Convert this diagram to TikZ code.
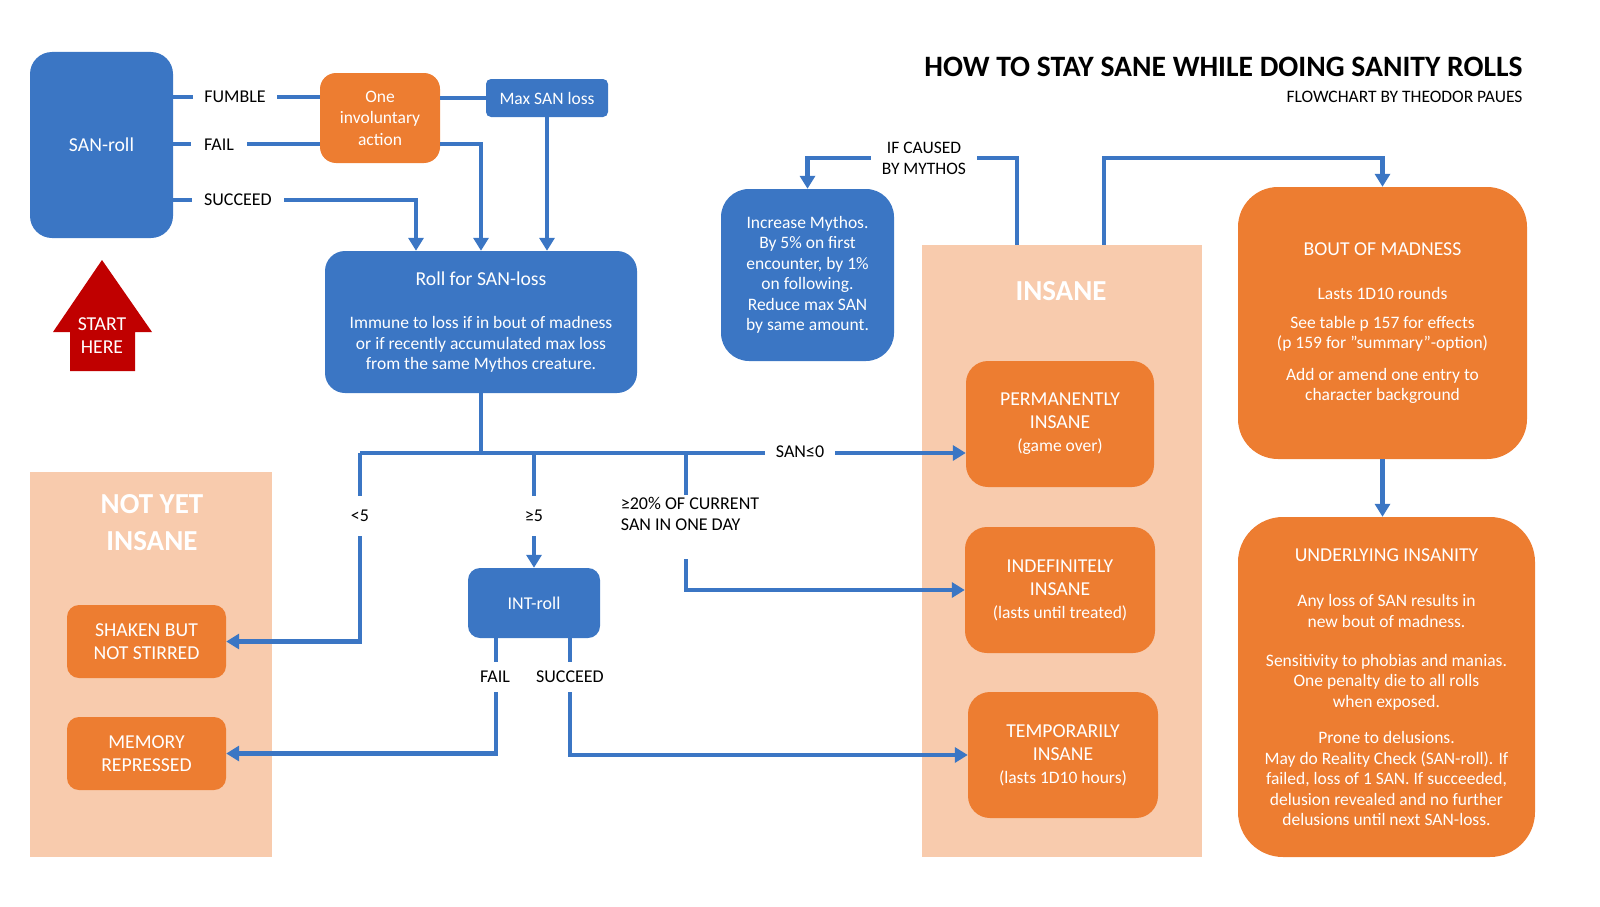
\documentclass[tikz,border=0pt]{standalone}
\usepackage{fontspec}
\setmainfont{Carlito}
\usetikzlibrary{arrows.meta}
\definecolor{sblue}{HTML}{3B76C4}
\definecolor{sorange}{HTML}{ED7D31}
\definecolor{speach}{HTML}{F8CBAD}
\definecolor{sred}{HTML}{C00000}
\newcommand\myfs{\fontsize{17.5}{20.5}\selectfont}
\newcommand\myfsb{\fontsize{17.5}{23}\selectfont}
\newcommand\bt[1]{{\fontsize{19.7}{23}\selectfont #1}}
\tikzset{
  bbox/.style={fill=sblue, text=white, align=center, inner sep=0pt, font=\myfs},
  obox/.style={fill=sorange, text=white, align=center, inner sep=0pt, font=\myfsb},
  panel/.style={fill=speach, inner sep=0pt},
  ptitle/.style={text=white, align=center, font=\fontsize{29}{37}\selectfont\bfseries},
  conn/.style={draw=sblue, line width=4.5pt},
  arr/.style={conn, -{Triangle[width=15pt,length=13pt]}},
  lbl/.style={fill=white, text=black, font=\fontsize{18}{21}\selectfont, inner xsep=11pt, inner ysep=3pt},
  vlbl/.style={fill=white, text=black, font=\fontsize{18}{21}\selectfont, inner xsep=4pt, inner ysep=14pt},
}
\begin{document}
\begin{tikzpicture}[x=1pt,y=-1pt]
\useasboundingbox (0,0) rectangle (1600,907);

% panels
\node[panel, minimum width=242pt, minimum height=385pt] (notyet) at (151,664.5) {};
\node[panel, minimum width=280pt, minimum height=612pt] (insane) at (1062,551) {};
\node[ptitle] (notyettitle) at (152,523) {NOT YET\\INSANE};
\node[ptitle] (insanetitle) at (1061,291) {INSANE};

% title
\node[anchor=base east, font=\fontsize{29.6}{34}\selectfont\bfseries] (title) at (1526,77) {HOW TO STAY SANE WHILE DOING SANITY ROLLS};
\node[anchor=base east, font=\myfs] (subtitle) at (1526,102) {FLOWCHART BY THEODOR PAUES};

% start arrow
\fill[sred] (102,260) -- (152,332) -- (135,332) -- (135,371) -- (70,371) -- (70,332) -- (53,332) -- cycle;
\node[text=white, align=center, font=\fontsize{19.7}{23}\selectfont] (start) at (102,336) {START\\HERE};

% boxes
\node[bbox, font=\fontsize{19.7}{23}\selectfont, rounded corners=22pt, minimum width=143pt, minimum height=186pt] (sanroll) at (101.5,145) {SAN-roll};
\node[obox, font=\fontsize{17.5}{21.5}\selectfont, rounded corners=16pt, minimum width=120pt, minimum height=90pt] (invol) at (380,118) {One\\involuntary\\action};
\node[bbox, rounded corners=5pt, minimum width=122pt, minimum height=38pt] (maxsan) at (547,98) {Max SAN loss};
\node[bbox, rounded corners=20pt, minimum width=312pt, minimum height=142pt] (roll) at (481,322) {\bt{Roll for SAN-loss}\\[23pt]Immune to loss if in bout of madness\\or if recently accumulated max loss\\from the same Mythos creature.};
\node[bbox, rounded corners=28pt, minimum width=173pt, minimum height=172pt] (mythos) at (807.5,275) {Increase Mythos.\\By 5\% on first\\encounter, by 1\%\\on following.\\Reduce max SAN\\by same amount.};
\node[bbox, font=\fontsize{18}{21}\selectfont, rounded corners=12pt, minimum width=132pt, minimum height=70pt] (intr) at (534,603) {INT-roll};
\node[obox, rounded corners=12pt, minimum width=159pt, minimum height=73pt] (shaken) at (146.5,641.5) {\bt{SHAKEN BUT}\\\bt{NOT STIRRED}};
\node[obox, rounded corners=12pt, minimum width=159pt, minimum height=73pt] (memory) at (146.5,753.5) {\bt{MEMORY}\\\bt{REPRESSED}};
\node[obox, rounded corners=22pt, minimum width=188pt, minimum height=126pt] (perm) at (1060,424) {\bt{PERMANENTLY}\\\bt{INSANE}\\(game over)};
\node[obox, rounded corners=22pt, minimum width=190pt, minimum height=126pt] (indef) at (1060,590) {\bt{INDEFINITELY}\\\bt{INSANE}\\(lasts until treated)};
\node[obox, rounded corners=22pt, minimum width=190pt, minimum height=126pt] (temp) at (1063,755) {\bt{TEMPORARILY}\\\bt{INSANE}\\(lasts 1D10 hours)};
\node[obox, font=\myfs, rounded corners=40pt, minimum width=289pt, minimum height=272pt] (bout) at (1382.5,323) {\bt{BOUT OF MADNESS}\\[24pt]Lasts 1D10 rounds\\[8pt]See table p 157 for effects\\(p 159 for ”summary”-option)\\[11pt]Add or amend one entry to\\character background};
\node[obox, font=\myfs, rounded corners=45pt, minimum width=297pt, minimum height=340pt] (under) at (1386.5,687) {\bt{UNDERLYING INSANITY}\\[25pt]Any loss of SAN results in\\new bout of madness.\\[18.5pt]Sensitivity to phobias and manias.\\One penalty die to all rolls\\when exposed.\\[16pt]Prone to delusions.\\May do Reality Check (SAN-roll). If\\failed, loss of 1 SAN. If succeeded,\\delusion revealed and no further\\delusions until next SAN-loss.};

% helper coordinates
\coordinate (yf) at (0,97);
\coordinate (yfa) at (0,144);
\coordinate (ys) at (0,200);
\coordinate (yb) at (0,453);
\coordinate (ytop) at (0,158);
\coordinate (xs) at (416,0);
\coordinate (xlt) at (360,0);
\coordinate (xtw) at (686,0);
\coordinate (xfl) at (496,0);
\coordinate (xsu) at (570,0);
\coordinate (xm) at (1017,0);
\coordinate (xb) at (1104,0);

% connectors
\draw[conn] (sanroll.east |- yf) -- (invol.west |- yf);
\draw[conn] (sanroll.east |- yfa) -- (invol.west |- yfa);
\draw[conn] (invol.east |- maxsan.west) -- (maxsan.west);
\draw[arr] (maxsan.south) -- (maxsan.south |- roll.north);
\draw[arr] (invol.east |- yfa) -| (roll.north);
\draw[arr] (sanroll.east |- ys) -| (xs |- roll.north);
\draw[conn] (roll.south) -- (roll.south |- yb);
\draw[arr] (xlt |- yb) -- (perm.west |- yb);
\draw[arr] (xlt |- yb) |- (shaken.east);
\draw[arr] (intr.north |- yb) -- (intr.north);
\draw[arr] (xtw |- yb) |- (indef.west);
\draw[arr] (xfl |- intr.south) |- (memory.east);
\draw[arr] (xsu |- intr.south) |- (temp.west);
\draw[arr] (xm |- insane.north) -- (xm |- ytop) -| (mythos.north);
\draw[arr] (xb |- insane.north) -- (xb |- ytop) -| (bout.north);
\draw[arr] (bout.south) -- (bout.south |- under.north);

% connector labels
\node[lbl] (lfumble) at (235,97) {FUMBLE};
\node[lbl, inner xsep=13pt] (lfail) at (219,145) {FAIL};
\node[lbl, inner xsep=12pt] (lsucc) at (238,200) {SUCCEED};
\node[lbl] (lsan) at (800,452) {SAN≤0};
\node[vlbl] (llt) at (360,516) {<5};
\node[vlbl] (lge) at (534,516) {≥5};
\node[vlbl, align=left, inner ysep=0pt, minimum height=64pt] (ltw) at (690,527) {≥20\% OF CURRENT\\SAN IN ONE DAY\\[6pt]};
\node[vlbl, inner ysep=9pt] (lfail2) at (495,677) {FAIL};
\node[vlbl, inner ysep=9pt] (lsucc2) at (570,677) {SUCCEED};
\node[lbl, align=center, font=\fontsize{17.5}{21}\selectfont] (lif) at (924,158) {IF CAUSED\\BY MYTHOS};
\end{tikzpicture}
\end{document}
